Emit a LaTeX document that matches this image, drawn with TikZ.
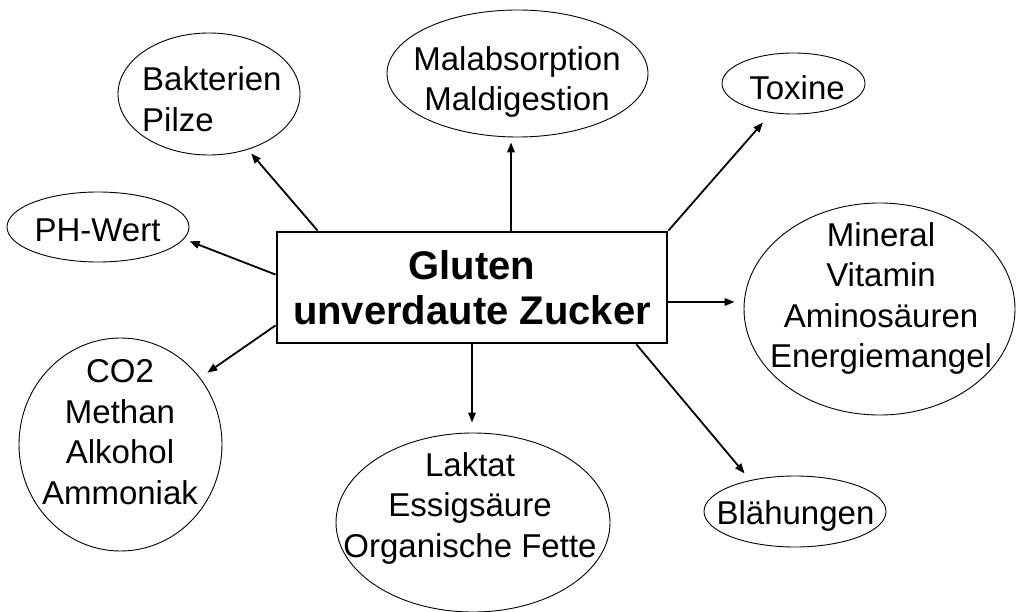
\documentclass[tikz,border=0pt]{standalone}
\usepackage{fontspec}
\setmainfont{Liberation Sans}
\usetikzlibrary{arrows.meta,shapes.geometric}
\begin{document}
\begin{tikzpicture}[x=1pt,y=-1pt,
  oval/.style={draw=black,line width=0.9pt,ellipse,inner sep=0pt},
  lbl/.style={inner sep=0pt,font=\fontsize{33}{40.5}\selectfont},
  mainbox/.style={draw=black,line width=2.8pt,rectangle,inner sep=0pt,
    minimum width=390pt,minimum height=111pt,align=center,
    font=\fontsize{40}{45}\selectfont\bfseries},
  arr/.style={line width=1.8pt,-{Triangle[length=10pt,width=7.5pt]}}]
\useasboundingbox[fill=white] (0,0) rectangle (1016,612);

% central box
\node[mainbox] (box) at (472,287.5) {Gluten\\unverdaute Zucker};

% ellipses
\node[oval,minimum width=182pt,minimum height=122pt] (bak) at (209,94) {};
\node[oval,minimum width=261pt,minimum height=127pt] (mal) at (517.5,73.5) {};
\node[oval,minimum width=143pt,minimum height=61pt] (tox) at (793.5,83.5) {};
\node[oval,minimum width=182pt,minimum height=70pt] (ph) at (98,227) {};
\node[oval,minimum width=271pt,minimum height=212pt] (min) at (879.5,309) {};
\node[oval,minimum width=203pt,minimum height=213pt] (co2) at (120.5,444.5) {};
\node[oval,minimum width=274pt,minimum height=179pt] (lak) at (473,522.5) {};
\node[oval,minimum width=182pt,minimum height=71pt] (bla) at (795,511.5) {};

% texts
\node[lbl,anchor=west,align=left] (tbak) at (142,99) {Bakterien\\Pilze};
\node[lbl,align=center] (tmal) at (517,82) {Malabsorption\\Maldigestion};
\node[lbl,anchor=base] (ttox) at (797,100) {Toxine};
\node[lbl,anchor=base] (tph) at (97.5,241) {PH-Wert};
\node[lbl,align=center] (tmin) at (881,298.5) {Mineral\\Vitamin\\Aminosäuren\\Energiemangel};
\node[lbl,align=center] (tco2) at (120,432) {CO2\\Methan\\Alkohol\\Ammoniak};
\node[lbl,align=center] (tlak) at (470,508) {Laktat\\Essigsäure\\Organische Fette};
\node[lbl,anchor=base] (tbla) at (795.5,524) {Blähungen};

% connectors
\draw[arr,shorten >=5pt] ([xshift=42pt]box.north west) -- (bak.-55);
\draw[arr,shorten >=6pt] ([yshift=-44pt]box.north west) -- (ph.-8.7);
\draw[arr,shorten >=5pt] ([xshift=39pt]box.north) -- ([xshift=39pt]box.north |- mal.south);
\draw[arr,shorten >=12.6pt] (box.north east) -- (tox.-127.4);
\draw[arr,shorten >=9pt] ([yshift=-14.5pt]box.east) -- ([yshift=-14.5pt]box.east -| min.west);
\draw[arr,shorten >=8.8pt] ([yshift=19pt]box.south west) -- (co2.40);
\draw[arr,shorten >=10pt] (box.south) -- (box.south |- lak.north);
\draw[arr,shorten >=8.8pt] ([xshift=-32pt]box.south east) -- (bla.145.9);
\end{tikzpicture}
\end{document}
